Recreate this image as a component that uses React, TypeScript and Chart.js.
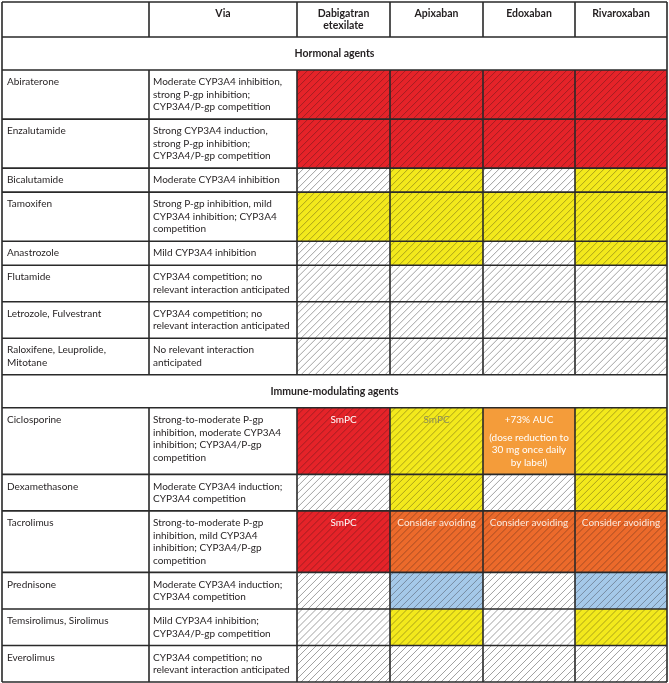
import React, { useEffect, useRef } from 'react';
import { Chart, registerables } from 'chart.js';

Chart.register(...registerables);

// ---------- data ----------
const columnTitles = ['', 'Via', 'Dabigatran\netexilate', 'Apixaban', 'Edoxaban', 'Rivaroxaban'];
const sectionTitles = ['Hormonal agents', 'Immune-modulating agents'];

const hormonalAgents = [
  'Abiraterone',
  'Enzalutamide',
  'Bicalutamide',
  'Tamoxifen',
  'Anastrozole',
  'Flutamide',
  'Letrozole, Fulvestrant',
  'Raloxifene, Leuprolide,\nMitotane',
];
const hormonalVia = [
  'Moderate CYP3A4 inhibition,\nstrong P-gp inhibition;\nCYP3A4/P-gp competition',
  'Strong CYP3A4 induction,\nstrong P-gp inhibition;\nCYP3A4/P-gp competition',
  'Moderate CYP3A4 inhibition',
  'Strong P-gp inhibition, mild\nCYP3A4 inhibition; CYP3A4\ncompetition',
  'Mild CYP3A4 inhibition',
  'CYP3A4 competition; no\nrelevant interaction anticipated',
  'CYP3A4 competition; no\nrelevant interaction anticipated',
  'No relevant interaction\nanticipated',
];
// risk per anticoagulant: Dabigatran, Apixaban, Edoxaban, Rivaroxaban
const hormonalRisk = [
  ['high', 'high', 'high', 'high'],
  ['high', 'high', 'high', 'high'],
  ['none', 'moderate', 'none', 'moderate'],
  ['moderate', 'moderate', 'moderate', 'moderate'],
  ['none', 'moderate', 'none', 'moderate'],
  ['none', 'none', 'none', 'none'],
  ['none', 'none', 'none', 'none'],
  ['none', 'none', 'none', 'none'],
];
const hormonalNotes = hormonalAgents.map(() => ['', '', '', '']);

const immuneAgents = [
  'Ciclosporine',
  'Dexamethasone',
  'Tacrolimus',
  'Prednisone',
  'Temsirolimus, Sirolimus',
  'Everolimus',
];
const immuneVia = [
  'Strong-to-moderate P-gp\ninhibition, moderate CYP3A4\ninhibition; CYP3A4/P-gp\ncompetition',
  'Moderate CYP3A4 induction;\nCYP3A4 competition',
  'Strong-to-moderate P-gp\ninhibition, mild CYP3A4\ninhibition; CYP3A4/P-gp\ncompetition',
  'Moderate CYP3A4 induction;\nCYP3A4 competition',
  'Mild CYP3A4 inhibition;\nCYP3A4/P-gp competition',
  'CYP3A4 competition; no\nrelevant interaction anticipated',
];
const immuneRisk = [
  ['high', 'moderate', 'label', 'moderate'],
  ['none', 'moderate', 'none', 'moderate'],
  ['high', 'avoid', 'avoid', 'avoid'],
  ['none', 'decrease', 'none', 'decrease'],
  ['none', 'moderate', 'none', 'moderate'],
  ['none', 'none', 'none', 'none'],
];
const immuneNotes = [
  ['SmPC', 'SmPC', '+73% AUC\n\n(dose reduction to\n30 mg once daily\nby label)', ''],
  ['', '', '', ''],
  ['SmPC', 'Consider avoiding', 'Consider avoiding', 'Consider avoiding'],
  ['', '', '', ''],
  ['', '', '', ''],
  ['', '', '', ''],
];

// ---------- styles / layout ----------
const riskFill: Record<string, string> = {
  high: '#e52329',
  moderate: '#f3e91c',
  label: '#f49c3a',
  avoid: '#ec6a2b',
  decrease: '#a5c9e9',
  none: '#ffffff',
};
const riskHatch: Record<string, boolean> = {
  high: true, moderate: true, label: false, avoid: true, decrease: true, none: true,
};
const riskText: Record<string, string> = {
  high: '#ffffff', moderate: '#8a8a5c', label: '#ffffff', avoid: '#fbe9dc', decrease: '#222', none: '#222',
};
const colWidths = [147, 148, 93, 93, 92, 92];
const FONT = 'Lato, "Open Sans", sans-serif';
const FS = 10;
const FS_BOLD = 10.5;
const LH = 12.5;
const HEADER_H = 35;
const SECTION_H = 33;

type Row =
  | { kind: 'header'; top: number; bottom: number }
  | { kind: 'section'; top: number; bottom: number; title: string }
  | { kind: 'agent'; top: number; bottom: number; name: string; via: string; risk: string[]; notes: string[] };

function lineUnits(text: string): number {
  if (!text) return 1;
  return text.split('\n').reduce((s, l) => s + (l === '' ? 0.4 : 1), 0);
}

function buildRows(): { rows: Row[]; total: number } {
  const rows: Row[] = [];
  let y = 0;
  rows.push({ kind: 'header', top: y, bottom: y + HEADER_H });
  y += HEADER_H;
  const groups = [
    { title: sectionTitles[0], agents: hormonalAgents, via: hormonalVia, risk: hormonalRisk, notes: hormonalNotes },
    { title: sectionTitles[1], agents: immuneAgents, via: immuneVia, risk: immuneRisk, notes: immuneNotes },
  ];
  for (const g of groups) {
    rows.push({ kind: 'section', top: y, bottom: y + SECTION_H, title: g.title });
    y += SECTION_H;
    g.agents.forEach((name, i) => {
      const n = Math.max(lineUnits(name), lineUnits(g.via[i]), ...g.notes[i].map(lineUnits));
      const h = 24 + LH * (n - 1);
      rows.push({ kind: 'agent', top: y, bottom: y + h, name, via: g.via[i], risk: g.risk[i], notes: g.notes[i] });
      y += h;
    });
  }
  return { rows, total: y };
}

const { rows: tableRows, total: totalHeight } = buildRows();
const colEdges = colWidths.reduce((a, w) => [...a, a[a.length - 1] + w], [0] as number[]);
const totalWidth = colEdges[colEdges.length - 1];

const tablePlugin = {
  id: 'interactionTable',
  afterDatasetsDraw(chart: any) {
    const ctx: CanvasRenderingContext2D = chart.ctx;
    const xs = chart.scales.x;
    const ys = chart.scales.y;
    const X = (v: number) => xs.getPixelForValue(v);
    const Y = (v: number) => ys.getPixelForValue(v);

    const drawLines = (text: string, x: number, yTop: number, align: CanvasTextAlign, color: string, bold = false) => {
      ctx.save();
      ctx.font = bold ? `bold ${FS_BOLD}px ${FONT}` : `${FS}px ${FONT}`;
      ctx.fillStyle = color;
      ctx.textAlign = align;
      ctx.textBaseline = 'middle';
      let yy = yTop;
      for (const line of text.split('\n')) {
        if (line === '') { yy += LH * 0.4; continue; }
        ctx.fillText(line, x, yy);
        yy += LH;
      }
      ctx.restore();
    };

    ctx.save();
    ctx.fillStyle = '#ffffff';
    ctx.fillRect(X(0), Y(0), X(totalWidth) - X(0), Y(totalHeight) - Y(0));

    for (const row of tableRows) {
      const t = Y(row.top);
      const b = Y(row.bottom);
      if (row.kind === 'header') {
        columnTitles.forEach((title, c) => {
          const cx = (X(colEdges[c]) + X(colEdges[c + 1])) / 2;
          drawLines(title, cx, t + 11.5, 'center', '#231f20', true);
        });
      } else if (row.kind === 'section') {
        drawLines(row.title, (X(0) + X(totalWidth)) / 2, (t + b) / 2, 'center', '#231f20', true);
      } else {
        // coloured cells
        row.risk.forEach((risk, k) => {
          const c = k + 2;
          const l = X(colEdges[c]);
          const r = X(colEdges[c + 1]);
          ctx.save();
          ctx.fillStyle = riskFill[risk];
          ctx.fillRect(l, t, r - l, b - t);
          if (riskHatch[risk]) {
            ctx.beginPath();
            ctx.rect(l, t, r - l, b - t);
            ctx.clip();
            ctx.strokeStyle = risk === 'none' ? 'rgba(40,40,40,0.55)' : 'rgba(30,20,20,0.42)';
            ctx.lineWidth = 0.8;
            ctx.beginPath();
            const h = b - t;
            const step = 7;
            const start = Math.floor((l - h) / step) * step;
            for (let x0 = start; x0 < r + step; x0 += step) {
              ctx.moveTo(x0, b);
              ctx.lineTo(x0 + h, t);
            }
            ctx.stroke();
          }
          ctx.restore();
          const note = row.notes[k];
          if (note) drawLines(note, (l + r) / 2, t + 12, 'center', riskText[risk]);
        });
        drawLines(row.name, X(colEdges[0]) + 5, t + 12, 'left', '#231f20');
        drawLines(row.via, X(colEdges[1]) + 4, t + 12, 'left', '#231f20');
      }
    }

    // grid lines
    ctx.strokeStyle = '#2a2a2a';
    ctx.lineWidth = 1.6;
    ctx.beginPath();
    const boundaries = [0, ...tableRows.map((r) => r.bottom)];
    for (const v of boundaries) {
      const y = Y(v);
      ctx.moveTo(X(0), y);
      ctx.lineTo(X(totalWidth), y);
    }
    for (const row of tableRows) {
      const t = Y(row.top);
      const b = Y(row.bottom);
      const edges = row.kind === 'section' ? [0, totalWidth] : colEdges;
      for (const e of edges) {
        ctx.moveTo(X(e), t);
        ctx.lineTo(X(e), b);
      }
    }
    ctx.stroke();
    ctx.restore();
  },
};

export default function App() {
  const ref = useRef<HTMLCanvasElement | null>(null);
  useEffect(() => {
    if (!ref.current) return;
    const chart = new Chart(ref.current, {
      type: 'scatter',
      data: { datasets: [{ label: 'cells', data: [], pointRadius: 0 }] },
      options: {
        animation: false,
        responsive: false,
        devicePixelRatio: 1,
        layout: { padding: { left: 2, top: 2, right: 2, bottom: 1 } },
        plugins: { legend: { display: false }, tooltip: { enabled: false } },
        scales: {
          x: { type: 'linear', min: 0, max: totalWidth, display: false },
          y: { type: 'linear', min: 0, max: totalHeight, reverse: true, display: false },
        },
      },
      plugins: [tablePlugin],
    });
    return () => chart.destroy();
  }, []);
  return (
    <div style={{ position: 'absolute', left: 0, top: 0, width: 669, height: 683, background: '#fff' }}>
      <canvas ref={ref} width={669} height={683} />
    </div>
  );
}
